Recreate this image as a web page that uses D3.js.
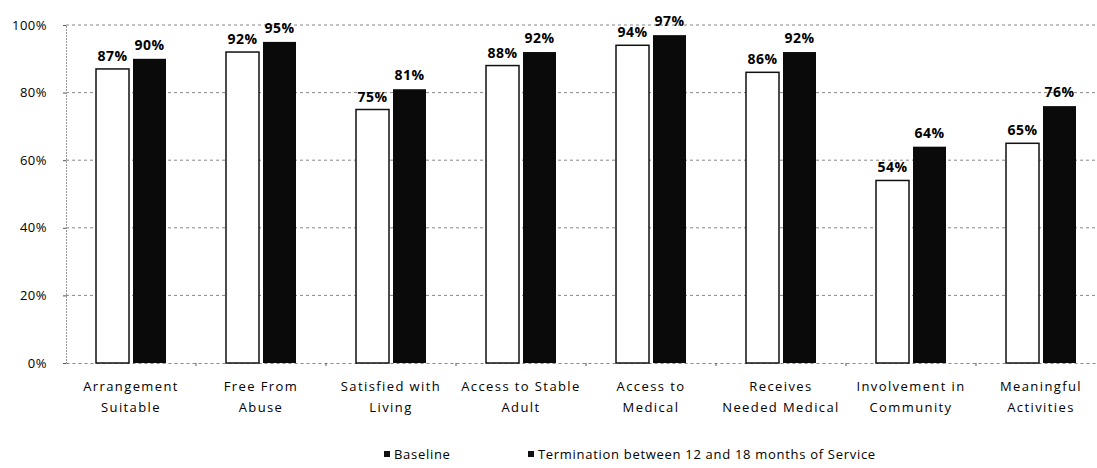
<!DOCTYPE html>
<html><head><meta charset="utf-8">
<script src="https://cdn.jsdelivr.net/npm/d3@7"></script>
<style>
body{margin:0;background:#fff;}
svg{display:block;}
text{font-family:"Open Sans",sans-serif;fill:#000;}
</style></head><body>
<svg id="c" width="1097" height="468"></svg>
<script>
const categories = [
  ["Arrangement","Suitable"],
  ["Free From","Abuse"],
  ["Satisfied with","Living"],
  ["Access to Stable","Adult"],
  ["Access to","Medical"],
  ["Receives","Needed Medical"],
  ["Involvement in","Community"],
  ["Meaningful","Activities"]
];
const baseline = [87, 92, 75, 88, 94, 86, 54, 65];
const termination = [90, 95, 81, 92, 97, 92, 64, 76];
const seriesNames = ["Baseline", "Termination between 12 and 18 months of Service"];
const yTicks = [0, 20, 40, 60, 80, 100];

(function(){
const svg = d3.select("#c");
const pL = 66, pR = 1106, pT = 25, pB = 363;
const x = d3.scaleBand().domain(d3.range(categories.length)).range([pL, pR]).paddingInner(0).paddingOuter(0);
const y = d3.scaleLinear().domain([0, 100]).range([pB, pT]);
const barW = 33, gap = 4;

// gridlines
svg.append("g").selectAll("line").data(yTicks.filter(d => d > 0)).join("line")
  .attr("x1", pL).attr("x2", 1097)
  .attr("y1", d => y(d)).attr("y2", d => y(d))
  .attr("stroke", "#888").attr("stroke-width", 1).attr("stroke-dasharray", "3,3");

// y axis
const yAxis = d3.axisLeft(y).tickValues(yTicks).tickFormat(d => d + "%").tickSize(3).tickPadding(16);
const ya = svg.append("g").attr("transform", `translate(${pL},0)`).call(yAxis);
ya.select(".domain").attr("stroke", "#999").attr("stroke-dasharray", "2,1");
ya.selectAll(".tick line").attr("stroke", "#555");
ya.selectAll("text").style("font-size", "13px").style("letter-spacing", "0.5px")
  .style("font-family", "Open Sans, sans-serif").attr("fill", "#000");

// x axis
const xa = svg.append("g").attr("transform", `translate(0,${pB})`)
  .call(d3.axisBottom(x).tickSize(0).tickFormat(""));
xa.select(".domain").attr("stroke", "#888").attr("stroke-dasharray", "3,3");
xa.selectAll(".tick").remove();
svg.append("g").selectAll("line").data(d3.range(1, categories.length)).join("line")
  .attr("x1", d => x(d)).attr("x2", d => x(d))
  .attr("y1", pB).attr("y2", pB + 3).attr("stroke", "#555");

// bars
const g = svg.append("g");
const cx = i => x(i) + x.bandwidth() / 2;
g.selectAll("rect.b").data(baseline).join("rect").attr("class", "b")
  .attr("x", (d, i) => cx(i) - gap / 2 - barW).attr("width", barW)
  .attr("y", d => y(d)).attr("height", d => pB - y(d))
  .attr("fill", "#fff").attr("stroke", "#111").attr("stroke-width", 1.5);
g.selectAll("rect.t").data(termination).join("rect").attr("class", "t")
  .attr("x", (d, i) => cx(i) + gap / 2).attr("width", barW)
  .attr("y", d => y(d)).attr("height", d => pB - y(d))
  .attr("fill", "#0a0a0a");

// data labels
g.selectAll("text.lb").data(baseline).join("text").attr("class", "lb")
  .attr("x", (d, i) => cx(i) - gap / 2 - barW / 2).attr("y", d => y(d) - 8)
  .attr("text-anchor", "middle").style("font-size", "14px").style("font-weight", "bold")
  .style("letter-spacing", "0.5px")
  .text(d => d + "%");
g.selectAll("text.lt").data(termination).join("text").attr("class", "lt")
  .attr("x", (d, i) => cx(i) + gap / 2 + barW / 2).attr("y", d => y(d) - 9)
  .attr("text-anchor", "middle").style("font-size", "14px").style("font-weight", "bold")
  .style("letter-spacing", "0.5px")
  .text(d => d + "%");

// category labels
const cl = svg.append("g").selectAll("text").data(categories).join("text")
  .attr("text-anchor", "middle").style("font-size", "13px").style("letter-spacing", "1.4px");
cl.each(function(d, i) {
  const t = d3.select(this);
  d.forEach((line, k) => {
    t.append("tspan").attr("x", cx(i)).attr("y", 391 + k * 21).text(line);
  });
});

// legend
const leg = svg.append("g");
const legX = [384, 528];
seriesNames.forEach((s, i) => {
  leg.append("rect").attr("x", legX[i]).attr("y", 451).attr("width", 6).attr("height", 6)
    .attr("fill", "#111");
  leg.append("text").attr("x", legX[i] + 10).attr("y", 459)
    .style("font-size", "13px").style("letter-spacing", "0.7px").text(s);
});
})();
</script>
</body></html>
